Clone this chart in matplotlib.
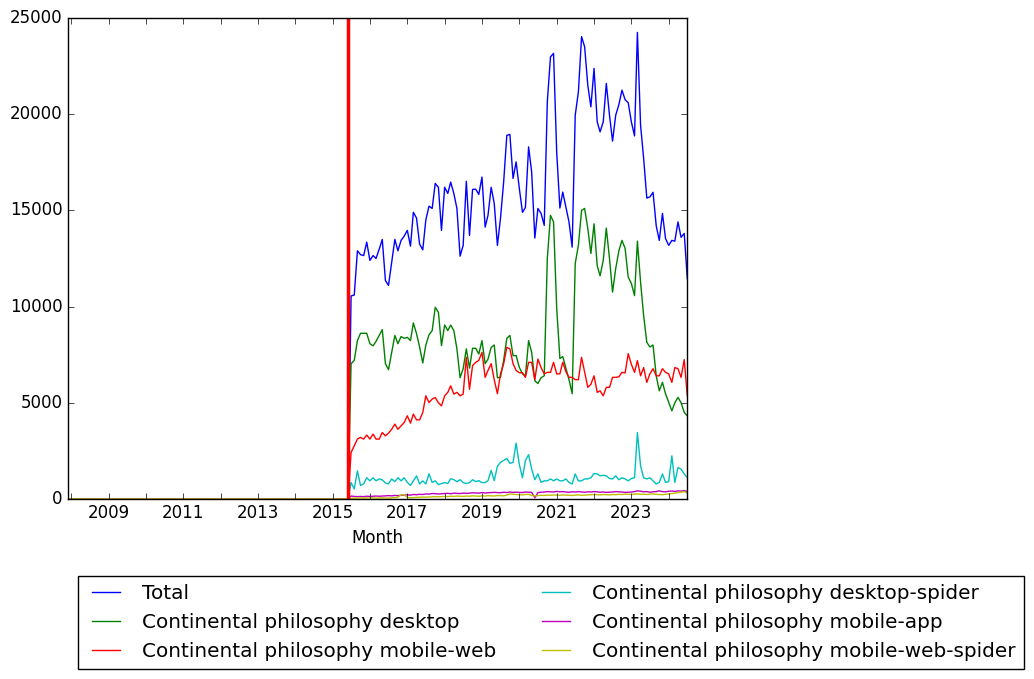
import matplotlib
matplotlib.use("Agg")
import matplotlib.pyplot as plt
import matplotlib.dates as mdates
import matplotlib.ticker as mticker
import numpy as np
import pandas as pd
import datetime as dt

plt.style.use("classic")

# ---------------- data ----------------
start_month = "2007-12-01"
data_start = "2015-07-01"
end_month = "2024-07-01"
marker_month = "2015-06-01"

total = [
    10550, 10600, 12900, 12700, 12650, 13350,
    12400, 12650, 12500, 12980, 13490, 11350, 11100, 12300, 13490, 12900, 13440, 13660,
    13960, 13140, 14900, 14600, 13250, 12950, 14500, 15220, 15100, 16400, 16200, 13960,
    16200, 15880, 16470, 15880, 15100, 12620, 13180, 16510, 13700, 16090, 16100, 15830,
    16730, 14130, 14740, 16200, 15360, 13180, 14580, 16470, 18900, 18950, 16660, 17520,
    16150, 14900, 15150, 18300, 17000, 13560, 15100, 14840, 14220, 20640, 22980, 23160,
    18000, 15120, 15950, 15150, 14400, 13090, 19950, 21160, 24030, 23500, 21500, 20380,
    22380, 19600, 19080, 19600, 21600, 19950, 18600, 19950, 20500, 21250, 20750, 20600,
    19600, 18870, 24250, 19430, 17700, 15640, 15700, 15940, 14200, 13440, 14840, 13540,
    13180, 13440, 13400, 14400, 13600, 13800, 11450,
]
desktop = [
    7030, 7200, 8230, 8610, 8610, 8610,
    8070, 7960, 8190, 8500, 8800, 7030, 6720, 7620, 8500, 8070, 8440, 8350,
    8400, 8230, 9150, 8590, 7900, 7070, 8000, 8530, 8750, 9960, 9700, 7970,
    9040, 8750, 9040, 8750, 7800, 6300, 6770, 7800, 6800, 7830, 7830, 7530,
    8230, 7030, 7270, 7880, 8000, 6300, 6320, 7200, 8350, 8500, 7450, 7450,
    6840, 6500, 6400, 8230, 7620, 6140, 6000, 6300, 6400, 12500, 14740, 14400,
    9900, 7300, 7400, 6800, 6200, 5470, 12240, 13180, 15000, 15100, 14060, 12760,
    14300, 12130, 11600, 12400, 14080, 12500, 10750, 11980, 12900, 13440, 13020, 11530,
    11200, 10570, 13400, 11270, 9530, 8140, 7900, 8000, 6400, 5620, 6060, 5470,
    5020, 4580, 5000, 5280, 5000, 4500, 4320,
]
mobile_web = [
    2410, 2760, 3110, 3200, 3110, 3320,
    3110, 3370, 3110, 3110, 3450, 3280, 3420, 3620, 3890, 3620, 3800, 3970,
    4320, 3940, 4410, 4110, 4110, 4490, 5360, 5010, 5190, 5270, 5000, 4840,
    5360, 5540, 5880, 5450, 5540, 5360, 5450, 7360, 5700, 6930, 7100, 7200,
    7620, 6320, 6680, 7030, 6200, 5470, 6500, 7030, 7880, 7800, 7030, 6680,
    6560, 6560, 6320, 7100, 7100, 6200, 7270, 6830, 6500, 6580, 6580, 7100,
    6500, 6500, 7100, 6620, 6320, 6320, 6200, 6200, 7360, 6580, 5800, 5960,
    6400, 5540, 5620, 5360, 5800, 5800, 6320, 6320, 6350, 6580, 6550, 7550,
    7000, 6580, 7190, 6400, 6830, 6060, 6500, 6770, 6400, 6400, 6770, 6580,
    6500, 6060, 6830, 6770, 6320, 7240, 5360,
]
desktop_spider = [
    850, 520, 1460, 700, 780, 1100,
    940, 1100, 940, 1040, 990, 830, 780, 1040, 900, 1100, 940, 1100,
    860, 700, 940, 1200, 780, 940, 780, 1300, 860, 940, 750, 800,
    850, 800, 1050, 1000, 900, 1000, 850, 800, 850, 1000, 900, 950,
    850, 850, 950, 1480, 950, 1700, 1900, 2000, 2100, 1850, 1900, 2900,
    1800, 1100, 2000, 2300, 1550, 1000, 1300, 860, 940, 940, 1040, 940,
    1040, 940, 940, 1040, 860, 780, 1300, 940, 940, 1040, 1040, 1100,
    1320, 1300, 1200, 1230, 1200, 1060, 1040, 1200, 1000, 1100, 1040, 940,
    1060, 1100, 3450, 1720, 1100, 1040, 1100, 940, 780, 860, 1300, 860,
    900, 2240, 860, 1630, 1550, 1300, 1100,
]
mobile_app = [
    150, 130, 120, 130, 120, 140,
    130, 140, 150, 140, 150, 160, 170, 160, 180, 170, 190, 200,
    210, 200, 230, 220, 240, 230, 260, 250, 280, 270, 260, 270,
    280, 290, 270, 300, 290, 280, 300, 290, 300, 320, 310, 300,
    330, 310, 320, 330, 340, 330, 320, 350, 330, 360, 340, 350,
    340, 330, 360, 350, 340, 60, 330, 350, 360, 380, 370, 360,
    390, 370, 380, 360, 350, 370, 360, 380, 360, 350, 370, 360,
    380, 370, 350, 360, 340, 350, 360, 380, 370, 360, 340, 350,
    360, 380, 420, 400, 370, 380, 350, 370, 380, 420, 380, 370,
    400, 410, 390, 420, 410, 430, 400,
]
mobile_web_spider = [
    30, 40, 40, 50, 40, 50,
    50, 60, 40, 50, 60, 50, 40, 60, 70, 90, 210, 220,
    80, 60, 70, 80, 90, 100, 90, 100, 110, 120, 110, 120,
    130, 120, 140, 130, 150, 140, 130, 150, 140, 160, 150, 140,
    160, 150, 170, 160, 150, 180, 170, 160, 200, 260, 240, 230,
    220, 210, 230, 240, 180, 160, 170, 190, 180, 200, 190, 210,
    200, 190, 210, 200, 190, 180, 200, 210, 190, 200, 210, 220,
    230, 220, 210, 230, 220, 210, 230, 220, 240, 230, 250, 240,
    230, 250, 260, 240, 250, 230, 250, 260, 240, 230, 220, 240,
    260, 280, 300, 330, 350, 380, 300,
]

labels = [
    "Total",
    "Continental philosophy desktop",
    "Continental philosophy mobile-web",
    "Continental philosophy desktop-spider",
    "Continental philosophy mobile-app",
    "Continental philosophy mobile-web-spider",
]
colors = ["b", "g", "r", "c", "m", "y"]
series = [total, desktop, mobile_web, desktop_spider, mobile_app, mobile_web_spider]

# ---------------- build frame ----------------
months = pd.date_range(start_month, end_month, freq="MS")
n_zero = len(pd.date_range(start_month, data_start, freq="MS")) - 1

fig = plt.figure(figsize=(10.34, 6.79), dpi=100)
ax = fig.add_axes([0.0657, 0.2652, 0.5990, 0.7083])

for vals, lab, col in zip(series, labels, colors):
    y = np.concatenate([np.zeros(n_zero), np.asarray(vals, dtype=float)])
    ax.plot(months, y, color=col, lw=1.0, label=lab)

ax.axvline(pd.Timestamp(marker_month), color="r", lw=2.5)

ax.set_xlim(months[0], months[-1])
ax.set_ylim(0, 25000)
ax.yaxis.set_major_locator(mticker.MultipleLocator(5000))

major = [mdates.date2num(dt.datetime(y, 1, 1)) for y in range(2009, 2024, 2)]
minor = [mdates.date2num(dt.datetime(y, 1, 1)) for y in range(2008, 2025)]
ax.xaxis.set_major_locator(mticker.FixedLocator(major))
ax.xaxis.set_minor_locator(mticker.FixedLocator(minor))
ax.xaxis.set_major_formatter(mdates.DateFormatter("%Y"))
ax.tick_params(axis="x", which="minor", length=4)
ax.set_xlabel("Month")

fig.legend(*ax.get_legend_handles_labels(), loc="center", ncol=2,
           bbox_to_anchor=(0.533, 0.083), fontsize=14.4)

fig.savefig("out.png", dpi=100)
